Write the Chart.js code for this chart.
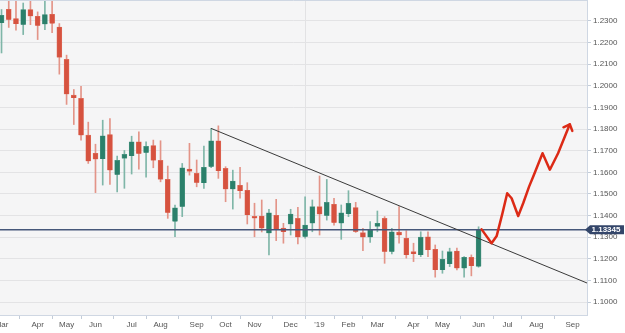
<!DOCTYPE html>
<html><head><meta charset="utf-8">
<script src="https://cdn.jsdelivr.net/npm/chart.js@4.4.1/dist/chart.umd.min.js"></script>
<style>html,body{margin:0;padding:0;background:#fff;overflow:hidden}canvas{display:block}</style>
</head><body>
<canvas id="c" width="625" height="333"></canvas>
<script>
// Weekly EUR/USD candles (index = week number)
const opens  = [1.2291,1.2354,1.2311,1.2283,1.2353,1.2322,1.2285,1.2331,1.2272,1.2122,1.1957,1.1942,1.1772,1.1688,1.1661,1.1775,1.1589,1.1664,1.1676,1.1741,1.1690,1.1724,1.1655,1.1567,1.1372,1.1441,1.1615,1.1595,1.1550,1.1626,1.1746,1.1618,1.1522,1.1540,1.1517,1.1395,1.1398,1.1318,1.1401,1.1342,1.1360,1.1387,1.1302,1.1364,1.1441,1.1399,1.1452,1.1364,1.1407,1.1437,1.1321,1.1300,1.1349,1.1387,1.1233,1.1323,1.1295,1.1233,1.1218,1.1302,1.1244,1.1148,1.1176,1.1236,1.1156,1.1207,1.1164];
const highs  = [1.2353,1.2405,1.2410,1.2383,1.2405,1.2342,1.2400,1.2410,1.2288,1.2142,1.1983,1.1998,1.1832,1.1730,1.1841,1.1849,1.1675,1.1701,1.1767,1.1787,1.1741,1.1749,1.1746,1.1629,1.1449,1.1641,1.1734,1.1657,1.1721,1.1803,1.1815,1.1626,1.1610,1.1623,1.1552,1.1457,1.1472,1.1429,1.1475,1.1364,1.1429,1.1438,1.1487,1.1472,1.1583,1.1567,1.1480,1.1449,1.1515,1.1461,1.1341,1.1372,1.1421,1.1395,1.1341,1.1441,1.1330,1.1272,1.1325,1.1325,1.1264,1.1236,1.1249,1.1249,1.1210,1.1218,1.1348];
const lows   = [1.2152,1.2270,1.2257,1.2237,1.2283,1.2214,1.2260,1.2246,1.2054,1.1914,1.1821,1.1749,1.1641,1.1506,1.1541,1.1544,1.1509,1.1526,1.1592,1.1614,1.1577,1.1621,1.1556,1.1387,1.1302,1.1395,1.1587,1.1533,1.1526,1.1621,1.1572,1.1464,1.1430,1.1480,1.1361,1.1302,1.1324,1.1218,1.1284,1.1272,1.1310,1.1269,1.1295,1.1325,1.1310,1.1379,1.1356,1.1290,1.1395,1.1322,1.1238,1.1276,1.1325,1.1179,1.1222,1.1272,1.1203,1.1187,1.1210,1.1210,1.1115,1.1133,1.1164,1.1148,1.1115,1.1121,1.1161];
const closes = [1.2326,1.2306,1.2288,1.2353,1.2322,1.2280,1.2330,1.2288,1.2131,1.1961,1.1944,1.1771,1.1651,1.1660,1.1769,1.1609,1.1655,1.1683,1.1741,1.1686,1.1720,1.1655,1.1567,1.1413,1.1436,1.1621,1.1604,1.1552,1.1623,1.1746,1.1606,1.1522,1.1560,1.1513,1.1403,1.1387,1.1341,1.1413,1.1333,1.1324,1.1407,1.1300,1.1356,1.1441,1.1406,1.1461,1.1367,1.1413,1.1457,1.1325,1.1300,1.1333,1.1364,1.1233,1.1325,1.1309,1.1218,1.1222,1.1300,1.1241,1.1148,1.1198,1.1233,1.1156,1.1207,1.1167,1.13345];

// x-axis month ticks (week index of first candle in month) and labels
const monthTickIdx = [0,5,9,13,18,22,27,31,35,40,44,48,52,57,61,66,70,74,79];
const monthLabels  = ['Mar','Apr','May','Jun','Jul','Aug','Sep','Oct','Nov','Dec',"'19",'Feb','Mar','Apr','May','Jun','Jul','Aug','Sep'];
const yearTickIdx = 44;

// y-axis ticks
const yTicks = [1.10,1.11,1.12,1.13,1.14,1.15,1.16,1.17,1.18,1.19,1.20,1.21,1.22,1.23];

// Current price line
const lastPrice = 1.13345;

// Downtrend line (week index, price)
const trendX = [29, 81];
const trendY = [1.1803, 1.1088];

// Projected path (red arrow)
const arrowX = [66.42, 67.8, 68.5, 69.3, 69.96, 70.57, 71.48, 72.17, 73.0, 73.55, 74.85, 75.86, 77.0, 78.62];
const arrowY = [1.1336, 1.1272, 1.1305, 1.1410, 1.1503, 1.1480, 1.1398, 1.1457, 1.1535, 1.1579, 1.1688, 1.1612, 1.1688, 1.1822];

const RED = '#d6523f', GREEN = '#2b806b', RED_W = '#e39488', GREEN_W = '#7fb6a8';
const FONT = "'Liberation Sans', Arial, sans-serif";

const idx = opens.map((_, i) => i);
const up = idx.map(i => closes[i] >= opens[i]);

const bgPlugin = {
  id: 'bg',
  beforeDraw(chart) {
    const {ctx, chartArea: a} = chart;
    ctx.save();
    ctx.fillStyle = '#f5f5f6';
    ctx.fillRect(a.left, a.top, a.right - a.left, a.bottom - a.top);
    ctx.restore();
  },
  afterDraw(chart) {
    const {ctx, chartArea: a, scales} = chart;
    ctx.save();
    // top border
    ctx.strokeStyle = '#cfd7e3';
    ctx.lineWidth = 1;
    ctx.beginPath(); ctx.moveTo(a.left, a.top + 0.5); ctx.lineTo(a.right, a.top + 0.5); ctx.stroke();
    // arrow head on projection
    const xs = scales.x, ys = scales.y;
    const n = arrowX.length;
    const px = xs.getPixelForValue(arrowX[n-1]), py = ys.getPixelForValue(arrowY[n-1]);
    const qx = xs.getPixelForValue(arrowX[n-2]), qy = ys.getPixelForValue(arrowY[n-2]);
    const ang = Math.atan2(qy - py, qx - px);
    const L = 7, spread = 0.75;
    ctx.strokeStyle = '#dc2a16';
    ctx.lineWidth = 2.5; ctx.lineCap = 'round'; ctx.lineJoin = 'round';
    ctx.beginPath();
    ctx.moveTo(px + L * Math.cos(ang + spread), py + L * Math.sin(ang + spread));
    ctx.lineTo(px, py);
    ctx.lineTo(px + L * Math.cos(ang - spread), py + L * Math.sin(ang - spread));
    ctx.stroke();
    // price label box
    const y = ys.getPixelForValue(lastPrice);
    const x0 = a.right - 2, h = 4.5;
    ctx.fillStyle = '#34466a';
    ctx.beginPath();
    ctx.moveTo(x0, y);
    ctx.lineTo(x0 + 5, y - h);
    ctx.lineTo(624, y - h);
    ctx.lineTo(624, y + h);
    ctx.lineTo(x0 + 5, y + h);
    ctx.closePath();
    ctx.fill();
    ctx.fillStyle = '#ffffff';
    ctx.font = 'bold 8px ' + FONT;
    ctx.textAlign = 'center';
    ctx.textBaseline = 'middle';
    ctx.fillText(lastPrice.toFixed(5), 606, y + 0.5);
    ctx.restore();
  }
};

new Chart(document.getElementById('c'), {
  type: 'bar',
  data: {
    datasets: [
      {
        type: 'line', label: 'price', order: 2, clip: 0,
        data: [{x: -1, y: lastPrice}, {x: 82, y: lastPrice}],
        borderColor: '#46577a', borderWidth: 1.5, pointRadius: 0
      },
      {
        type: 'line', label: 'trend', order: 1, clip: 0,
        data: trendX.map((x, i) => ({x, y: trendY[i]})),
        borderColor: '#3a3a3a', borderWidth: 1, pointRadius: 0
      },
      {
        type: 'line', label: 'projection', order: 0, clip: 0,
        data: arrowX.map((x, i) => ({x, y: arrowY[i]})),
        borderColor: '#dc2a16', borderWidth: 2.5, pointRadius: 0, tension: 0,
        borderCapStyle: 'round', borderJoinStyle: 'round'
      },
      {
        label: 'wicks', order: 4, grouped: false, clip: 0,
        data: idx.map(i => ({x: i, y: [lows[i], highs[i]]})),
        backgroundColor: idx.map(i => up[i] ? GREEN_W : RED_W),
        barThickness: 1, borderWidth: 0
      },
      {
        label: 'bodies', order: 3, grouped: false, clip: 0,
        data: idx.map(i => ({x: i, y: [opens[i], closes[i]]})),
        backgroundColor: idx.map(i => up[i] ? GREEN : RED),
        borderColor: idx.map(i => up[i] ? '#4f9784' : '#e0705f'),
        borderWidth: 0.6,
        barThickness: 5, minBarLength: 2
      }
    ]
  },
  options: {
    responsive: false, animation: false, devicePixelRatio: 1,
    layout: {padding: 0},
    plugins: {legend: {display: false}, tooltip: {enabled: false}},
    scales: {
      x: {
        type: 'linear', min: -0.21, max: 81.0, offset: false,
        afterBuildTicks: s => { s.ticks = monthTickIdx.map(v => ({value: v})); },
        afterFit: s => { s.height = 18; s.paddingLeft = 0; s.paddingRight = 0; },
        ticks: {
          autoSkip: false, maxRotation: 0, padding: 1,
          color: '#555', font: {size: 8, family: FONT},
          callback: (v, i) => monthLabels[i]
        },
        grid: {
          color: c => (c.tick && c.tick.value === yearTickIdx) ? '#e2e2e4' : 'rgba(0,0,0,0)',
          tickColor: '#c3ccd8', tickLength: 4, drawTicks: true
        },
        border: {display: true, color: '#cfd7e3'}
      },
      y: {
        type: 'linear', position: 'right', min: 1.0940, max: 1.2397,
        afterBuildTicks: s => { s.ticks = yTicks.map(v => ({value: v})); },
        afterFit: s => { s.width = 38; s.paddingTop = 0; s.paddingBottom = 0; },
        ticks: {
          autoSkip: false, padding: 2,
          color: '#555', font: {size: 8, family: FONT},
          callback: v => Number(v).toFixed(4)
        },
        grid: {color: '#e3e3e5', tickColor: '#c3ccd8', tickLength: 4},
        border: {display: true, color: '#cfd7e3'}
      }
    }
  },
  plugins: [bgPlugin]
});
</script>
</body></html>
